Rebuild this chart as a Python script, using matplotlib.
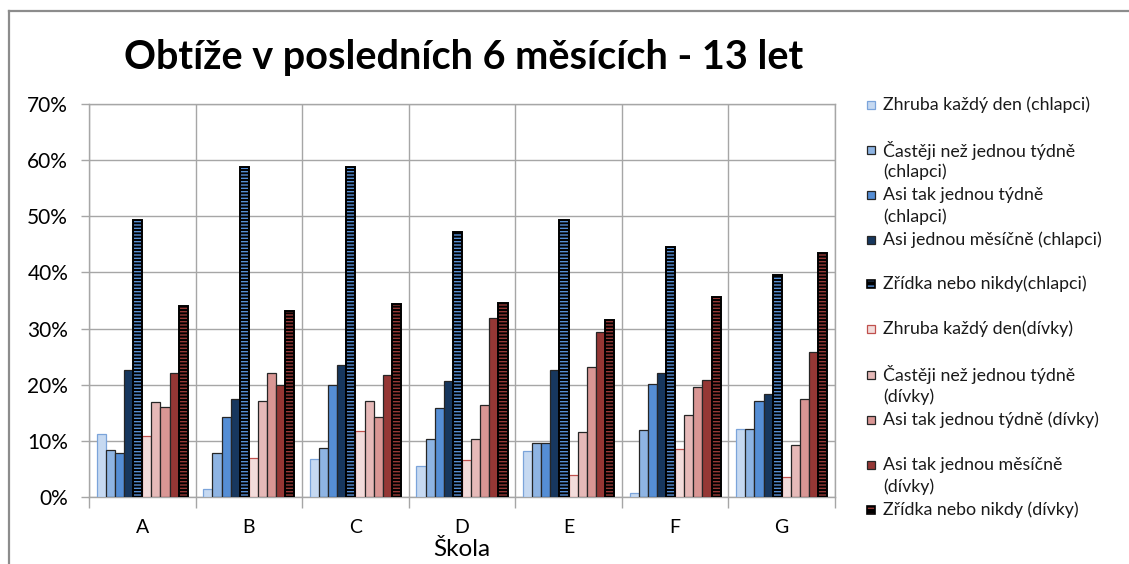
import matplotlib
matplotlib.use('Agg')
import matplotlib.pyplot as plt
from matplotlib.patches import Rectangle
from matplotlib.lines import Line2D
import numpy as np

plt.rcParams['font.family'] = ['Lato', 'DejaVu Sans']

# ---------------- data ----------------
schools = ['A', 'B', 'C', 'D', 'E', 'F', 'G']

series_labels = [
    'Zhruba každý den (chlapci)',
    'Častěji než jednou týdně\n(chlapci)',
    'Asi tak jednou týdně\n(chlapci)',
    'Asi jednou měsíčně (chlapci)',
    'Zřídka nebo nikdy(chlapci)',
    'Zhruba každý den(dívky)',
    'Častěji než jednou týdně\n(dívky)',
    'Asi tak jednou týdně (dívky)',
    'Asi tak jednou měsíčně\n(dívky)',
    'Zřídka nebo nikdy (dívky)',
]

zhruba_ch   = [11.3, 1.4, 6.8, 5.5, 8.2, 0.7, 12.1]
casteji_ch  = [8.4, 7.8, 8.8, 10.3, 9.7, 11.9, 12.1]
tyden_ch    = [7.8, 14.2, 20.0, 15.8, 9.7, 20.2, 17.1]
mesic_ch    = [22.7, 17.4, 23.5, 20.6, 22.7, 22.1, 18.4]
zridka_ch   = [49.3, 58.8, 58.8, 47.2, 49.3, 44.5, 39.5]
zhruba_dv   = [10.9, 7.0, 11.7, 6.6, 3.9, 8.6, 3.6]
casteji_dv  = [16.9, 17.1, 17.1, 10.3, 11.6, 14.6, 9.2]
tyden_dv    = [16.1, 22.1, 14.2, 16.3, 23.1, 19.6, 17.5]
mesic_dv    = [22.1, 20.0, 21.7, 31.9, 29.4, 20.8, 25.8]
zridka_dv   = [34.0, 33.2, 34.4, 34.6, 31.5, 35.6, 43.4]

series_values = [zhruba_ch, casteji_ch, tyden_ch, mesic_ch, zridka_ch,
                 zhruba_dv, casteji_dv, tyden_dv, mesic_dv, zridka_dv]

yticks = [0, 10, 20, 30, 40, 50, 60, 70]

# ---------------- styles ----------------
face_colors = ['#C6D9F1', '#8EB4E3', '#558ED5', '#17375E', '#000000',
               '#F2DCDB', '#E6B9B8', '#D99694', '#953735', '#000000']
edge_colors = ['#7BA4DA', '#262626', '#262626', '#262626', '#000000',
               '#C0504D', '#262626', '#262626', '#262626', '#000000']
hatch_colors = [None, None, None, None, '#558ED5',
                None, None, None, None, '#953735']

W, H = 1129, 564
fig = plt.figure(figsize=(W / 100, H / 100), dpi=100)
ax = fig.add_axes([89 / W, 1 - 497 / H, (835 - 89) / W, (497 - 104) / H])

x = np.arange(len(schools))
n = len(series_values)
bw = 0.0854
for i, vals in enumerate(series_values):
    off = (i - (n - 1) / 2) * bw
    if hatch_colors[i] is None:
        ax.bar(x + off, vals, bw, color=face_colors[i],
               edgecolor=edge_colors[i], linewidth=0.9, zorder=3)
    else:
        ax.bar(x + off, vals, bw, color=face_colors[i],
               edgecolor=hatch_colors[i], hatch='-----', linewidth=0, zorder=3)
        ax.bar(x + off, vals, bw, fill=False,
               edgecolor='#000000', linewidth=1.4, zorder=4)

grid_c = '#A6A6A6'
ax.set_xlim(-0.5, len(schools) - 0.5)
ax.set_ylim(0, 70)
ax.set_yticks(yticks)
ax.set_yticklabels([f'{v}%' for v in yticks])
ax.set_xticks(x)
ax.set_xticklabels(schools)
ax.set_xticks(np.arange(len(schools) + 1) - 0.5, minor=True)
ax.tick_params(axis='x', which='major', length=0, pad=16, labelsize=14,
               colors='#000000')
ax.tick_params(axis='x', which='minor', length=8, width=1, color=grid_c)
ax.tick_params(axis='y', which='major', length=6, width=1, color=grid_c,
               pad=9, labelsize=15)
ax.grid(axis='y', which='major', color=grid_c, linewidth=1)
ax.grid(axis='x', which='minor', color=grid_c, linewidth=1)
ax.set_axisbelow(True)
for s in ax.spines.values():
    s.set_color(grid_c)
    s.set_linewidth(1)

ax.set_xlabel('Škola', fontsize=17.5, labelpad=2)

fig.text(464 / W, 1 - 57 / H, 'Obtíže v posledních 6 měsících - 13 let',
         ha='center', va='center', fontsize=28.5, fontweight='bold')

# outer chart border (only top and left edges visible in the crop)
fig.add_artist(Line2D([9 / W, 1.0], [1 - 11 / H, 1 - 11 / H],
                      transform=fig.transFigure, color='#8C8C8C', linewidth=1.6))
fig.add_artist(Line2D([9 / W, 9 / W], [0.0, 1 - 11 / H],
                      transform=fig.transFigure, color='#8C8C8C', linewidth=1.6))

# ---------------- legend (manual, Excel-like) ----------------
legend_y = [105, 150, 195, 240, 284, 329, 375, 420, 465, 510]
line_gap = 22
for i, lab in enumerate(series_labels):
    y0 = legend_y[i]
    sq = 8
    if hatch_colors[i] is None:
        fig.add_artist(Rectangle((867 / W, 1 - (y0 + sq / 2) / H), sq / W, sq / H,
                                 transform=fig.transFigure,
                                 facecolor=face_colors[i],
                                 edgecolor=edge_colors[i], linewidth=0.9))
    else:
        fig.add_artist(Rectangle((867 / W, 1 - (y0 + sq / 2) / H), sq / W, sq / H,
                                 transform=fig.transFigure,
                                 facecolor='#000000',
                                 edgecolor=hatch_colors[i], hatch='---',
                                 linewidth=0))
        fig.add_artist(Rectangle((867 / W, 1 - (y0 + sq / 2) / H), sq / W, sq / H,
                                 transform=fig.transFigure, fill=False,
                                 edgecolor='#000000', linewidth=1.2))
    for k, line in enumerate(lab.split('\n')):
        fig.text(883 / W, 1 - (y0 + k * line_gap) / H, line,
                 ha='left', va='center', fontsize=12.8, color='#1A1A1A')

fig.savefig('out.png', dpi=100)
